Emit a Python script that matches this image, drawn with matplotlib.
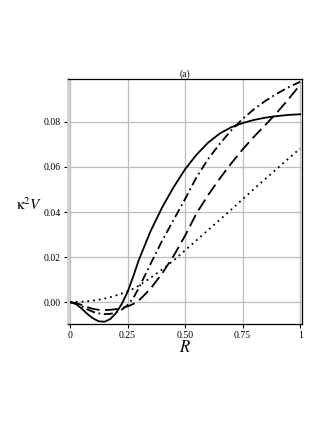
import matplotlib
matplotlib.use("Agg")
import matplotlib.pyplot as plt

plt.rcParams["font.family"] = ["Liberation Serif", "DejaVu Serif"]
plt.rcParams["mathtext.fontset"] = "stix"

R = [0.0, 0.025, 0.05, 0.075, 0.1, 0.125, 0.15, 0.175, 0.2, 0.225, 0.25,
     0.275, 0.3, 0.35, 0.4, 0.45, 0.5, 0.55, 0.6, 0.65, 0.7, 0.75, 0.8,
     0.85, 0.9, 0.95, 1.0]

v_solid = [0.0, -0.0008, -0.0028, -0.0052, -0.0072, -0.0085, -0.0087, -0.0075,
           -0.0048, -0.0008, 0.0045, 0.0115, 0.019, 0.0315, 0.042, 0.051, 0.059,
           0.0655, 0.0708, 0.0748, 0.0776, 0.0795, 0.0809, 0.0819, 0.0826,
           0.0831, 0.0834]
v_dashdot = [0.0, -0.0006, -0.0018, -0.0032, -0.0043, -0.005, -0.0053, -0.0052,
             -0.0045, -0.0033, -0.0013, 0.0018, 0.0065, 0.017, 0.0272, 0.0365,
             0.0458, 0.0555, 0.0635, 0.0702, 0.0762, 0.0813, 0.0857, 0.0894,
             0.0926, 0.0954, 0.0978]
v_dashed = [0.0, -0.0004, -0.0012, -0.0022, -0.003, -0.0034, -0.0035, -0.0034,
            -0.0031, -0.0026, -0.0019, -0.0008, 0.0008, 0.006, 0.0127, 0.0205,
            0.0295, 0.0395, 0.0475, 0.0548, 0.0615, 0.0678, 0.0735, 0.0788,
            0.0842, 0.0902, 0.0965]
v_dotted = [0.0, 0.0001, 0.0002, 0.0004, 0.0007, 0.0011, 0.0016, 0.0022, 0.003,
            0.0038, 0.0048, 0.006, 0.0074, 0.0108, 0.0145, 0.0185, 0.023, 0.0275,
            0.032, 0.0365, 0.041, 0.0457, 0.0503, 0.0548, 0.0593, 0.0638, 0.0682]

xticks = [0, 0.25, 0.5, 0.75, 1]
xticklabels = ["0", "0.25", "0.50", "0.75", "1"]
yticks = [0.0, 0.02, 0.04, 0.06, 0.08]

fig = plt.figure(figsize=(3.27, 4.23), dpi=100)
ax = fig.add_axes([0.208, 0.234, 0.716, 0.579])

ax.plot(R, v_solid, color="black", lw=1.3, ls="-")
ax.plot(R, v_dashdot, color="black", lw=1.3, ls=(0, (5, 2, 1, 2)))
ax.plot(R, v_dashed, color="black", lw=1.3, ls=(0, (7, 3)))
ax.plot(R, v_dotted, color="black", lw=1.3, ls=(0, (1, 2.2)))

ax.set_xlim(-0.0087, 1.0087)
ax.set_ylim(-0.0097, 0.099)
ax.set_xticks(xticks)
ax.set_xticklabels(xticklabels)
ax.set_yticks(yticks)
ax.set_yticklabels(["%.2f" % v for v in yticks])
ax.tick_params(labelsize=7, length=3, width=0.8, pad=2)
ax.grid(True, color="#bdbdbd", lw=0.9)
ax.set_axisbelow(True)

for s in ["top", "right", "bottom"]:
    ax.spines[s].set_color("black")
    ax.spines[s].set_linewidth(0.9)
ax.spines["left"].set_color("#d0d0d0")
ax.spines["left"].set_linewidth(2)

ax.set_title("(a)", fontsize=7, pad=2)
ax.set_xlabel("$R$", fontsize=12, labelpad=0)
fig.text(0.05, 0.503, r"$\mathrm{\kappa}^2V$", fontsize=11, ha="left", va="baseline")

fig.savefig("out.png", dpi=100)
